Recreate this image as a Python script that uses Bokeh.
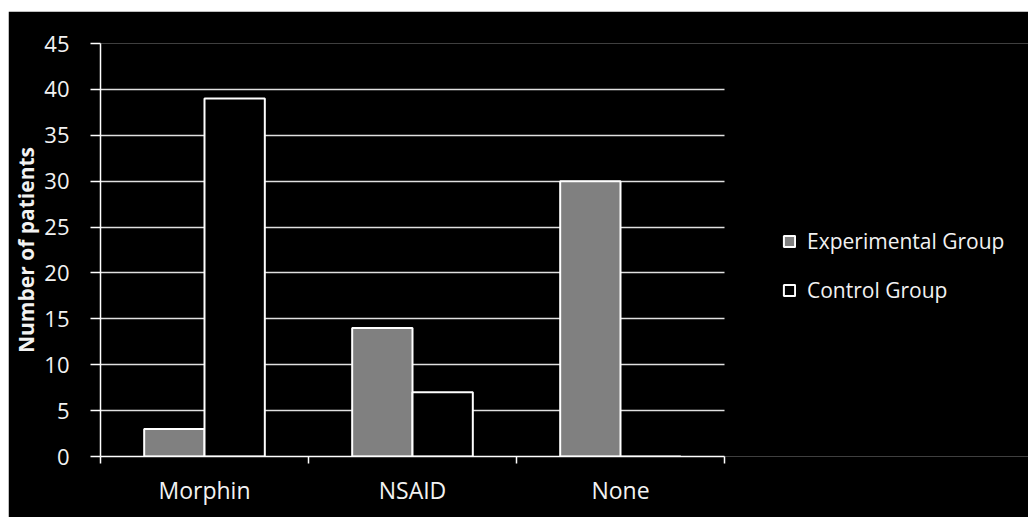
import numpy as np
from bokeh.plotting import figure
from bokeh.models import (ColumnDataSource, Range1d, FixedTicker, Legend, LegendItem, Spacer)
from bokeh.layouts import column, row
from bokeh.embed import file_html
from bokeh.resources import INLINE

categories = ["Morphin", "NSAID", "None"]
experimental = [3, 14, 30]
control = [39, 7, 0]
y_ticks = [0, 5, 10, 15, 20, 25, 30, 35, 40, 45]

FONT = "Open Sans"
TXT = "#f2f2f2"

n = len(categories)
centers = np.arange(n) + 0.5
bw = 0.29

# plot area spans the full width; the bar region covers 624 px of 928 px
FRAME_W = 928
BAR_W = 624
x_end = n * FRAME_W / BAR_W

src_e = ColumnDataSource(dict(x=centers - bw / 2, top=experimental))
src_c = ColumnDataSource(dict(x=centers + bw / 2, top=control))

p = figure(width=1020, height=506, output_backend="svg", toolbar_location=None,
           x_range=Range1d(0, x_end), y_range=Range1d(0, 45))
p.background_fill_color = "black"
p.border_fill_color = "black"
p.outline_line_color = None
p.min_border_left = 92
p.min_border_right = 0
p.min_border_top = 32
p.min_border_bottom = 61

r_e = p.vbar(x="x", top="top", bottom=0, width=bw, source=src_e,
             fill_color="#808080", line_color="white", line_width=2)
r_c = p.vbar(x="x", top="top", bottom=0, width=bw, source=src_c,
             fill_color="black", line_color="white", line_width=2)

# x axis: ticks at category boundaries, labels at centers
xt = FixedTicker(ticks=list(centers), minor_ticks=list(np.arange(n + 1)))
p.xaxis.ticker = xt
p.xaxis.bounds = (0, n)
p.xaxis.major_label_overrides = {float(c): cat for c, cat in zip(centers, categories)}
p.xaxis.major_tick_out = 0
p.xaxis.major_tick_in = 0
p.xaxis.minor_tick_out = 7
p.xaxis.minor_tick_in = 0
p.xaxis.minor_tick_line_color = "white"
p.xaxis.minor_tick_line_width = 1.5
p.xaxis.axis_line_color = "white"
p.xaxis.axis_line_width = 1.5
p.xaxis.major_label_text_color = TXT
p.xaxis.major_label_text_font = FONT
p.xaxis.major_label_text_font_size = "23px"
p.xaxis.major_label_standoff = 10

p.yaxis.ticker = FixedTicker(ticks=y_ticks)
p.yaxis.major_tick_out = 10
p.yaxis.major_tick_in = 0
p.yaxis.minor_tick_line_color = None
p.yaxis.major_tick_line_color = "white"
p.yaxis.major_tick_line_width = 1.5
p.yaxis.axis_line_color = "white"
p.yaxis.axis_line_width = 1.5
p.yaxis.major_label_text_color = TXT
p.yaxis.major_label_text_font = FONT
p.yaxis.major_label_text_font_size = "22px"
p.yaxis.major_label_standoff = 21
p.yaxis.axis_label = "Number of patients"
p.yaxis.axis_label_text_font = FONT
p.yaxis.axis_label_text_font_style = "bold"
p.yaxis.axis_label_text_font_size = "21px"
p.yaxis.axis_label_text_color = TXT
p.yaxis.axis_label_standoff = 1

p.xgrid.grid_line_color = None
p.ygrid.grid_line_color = "#e0e0e0"
p.ygrid.grid_line_width = 1.5
p.ygrid.ticker = FixedTicker(ticks=y_ticks)
p.ygrid.cross_bounds = (0, n)

legend = Legend(items=[LegendItem(label="Experimental Group", renderers=[r_e]),
                       LegendItem(label="Control Group", renderers=[r_c])],
                location=(682, 152))
legend.background_fill_alpha = 0
legend.border_line_color = None
legend.padding = 0
legend.margin = 0
legend.spacing = 21
legend.glyph_width = 14
legend.glyph_height = 14
legend.label_height = 20
legend.label_standoff = 11
legend.label_text_color = TXT
legend.label_text_font = FONT
legend.label_text_font_size = "21px"
p.add_layout(legend, "center")

layout = column(Spacer(height=11), row(Spacer(width=8), p))
open("out.html", "w").write(file_html(layout, INLINE))
